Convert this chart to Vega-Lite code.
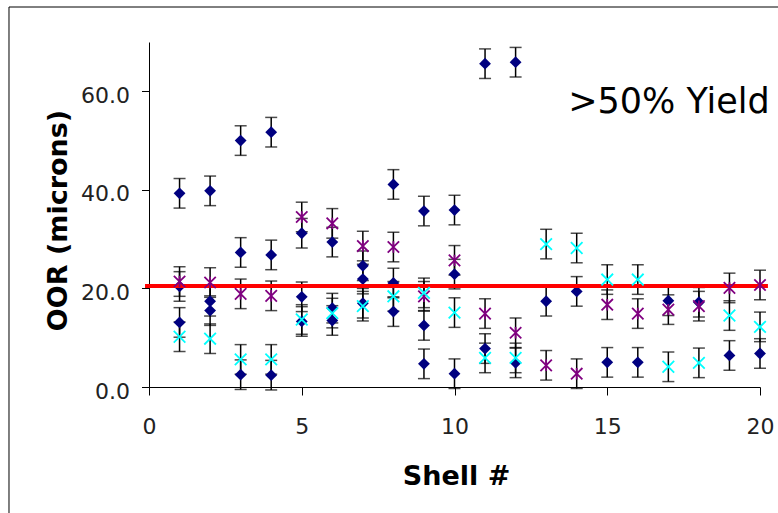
{
  "$schema": "https://vega.github.io/schema/vega-lite/v6.json",
  "width": 611,
  "height": 345,
  "autosize": {"type": "none"},
  "padding": {"left": 149, "top": 42, "right": 18, "bottom": 126},
  "background": "white",
  "config": {"view": {"stroke": null}},
  "datasets": {
    "pts": [
      {"shell": 1, "oor": 39.3, "err": 3, "s": "navy"},
      {"shell": 1, "oor": 20.4, "err": 3, "s": "navy"},
      {"shell": 1, "oor": 13.1, "err": 3, "s": "navy"},
      {"shell": 2, "oor": 39.8, "err": 3, "s": "navy"},
      {"shell": 2, "oor": 17.4, "err": 3, "s": "navy"},
      {"shell": 2, "oor": 15.5, "err": 3, "s": "navy"},
      {"shell": 3, "oor": 50.0, "err": 3, "s": "navy"},
      {"shell": 3, "oor": 27.3, "err": 3, "s": "navy"},
      {"shell": 3, "oor": 2.5, "err": 3, "s": "navy"},
      {"shell": 4, "oor": 51.7, "err": 3, "s": "navy"},
      {"shell": 4, "oor": 26.8, "err": 3, "s": "navy"},
      {"shell": 4, "oor": 2.4, "err": 3, "s": "navy"},
      {"shell": 5, "oor": 31.2, "err": 3, "s": "navy"},
      {"shell": 5, "oor": 18.3, "err": 3, "s": "navy"},
      {"shell": 5, "oor": 13.3, "err": 3, "s": "navy"},
      {"shell": 6, "oor": 29.4, "err": 3, "s": "navy"},
      {"shell": 6, "oor": 16.0, "err": 3, "s": "navy"},
      {"shell": 6, "oor": 13.5, "err": 3, "s": "navy"},
      {"shell": 7, "oor": 24.6, "err": 3, "s": "navy"},
      {"shell": 7, "oor": 21.9, "err": 3, "s": "navy"},
      {"shell": 7, "oor": 17.0, "err": 3, "s": "navy"},
      {"shell": 8, "oor": 41.1, "err": 3, "s": "navy"},
      {"shell": 8, "oor": 21.1, "err": 3, "s": "navy"},
      {"shell": 8, "oor": 15.3, "err": 3, "s": "navy"},
      {"shell": 9, "oor": 35.7, "err": 3, "s": "navy"},
      {"shell": 9, "oor": 12.5, "err": 3, "s": "navy"},
      {"shell": 9, "oor": 4.7, "err": 3, "s": "navy"},
      {"shell": 10, "oor": 35.9, "err": 3, "s": "navy"},
      {"shell": 10, "oor": 22.9, "err": 3, "s": "navy"},
      {"shell": 10, "oor": 2.7, "err": 3, "s": "navy"},
      {"shell": 11, "oor": 65.6, "err": 3, "s": "navy"},
      {"shell": 11, "oor": 7.8, "err": 3, "s": "navy"},
      {"shell": 12, "oor": 65.9, "err": 3, "s": "navy"},
      {"shell": 12, "oor": 4.9, "err": 3, "s": "navy"},
      {"shell": 13, "oor": 17.4, "err": 3, "s": "navy"},
      {"shell": 14, "oor": 19.4, "err": 3, "s": "navy"},
      {"shell": 15, "oor": 5.0, "err": 3, "s": "navy"},
      {"shell": 16, "oor": 5.0, "err": 3, "s": "navy"},
      {"shell": 17, "oor": 17.5, "err": 3, "s": "navy"},
      {"shell": 18, "oor": 17.2, "err": 3, "s": "navy"},
      {"shell": 19, "oor": 6.4, "err": 3, "s": "navy"},
      {"shell": 20, "oor": 6.8, "err": 3, "s": "navy"},
      {"shell": 1, "oor": 21.4, "err": 3, "s": "purple"},
      {"shell": 2, "oor": 21.2, "err": 3, "s": "purple"},
      {"shell": 3, "oor": 18.9, "err": 3, "s": "purple"},
      {"shell": 4, "oor": 18.5, "err": 3, "s": "purple"},
      {"shell": 5, "oor": 34.5, "err": 3, "s": "purple"},
      {"shell": 6, "oor": 33.2, "err": 3, "s": "purple"},
      {"shell": 7, "oor": 28.6, "err": 3, "s": "purple"},
      {"shell": 8, "oor": 28.4, "err": 3, "s": "purple"},
      {"shell": 9, "oor": 18.4, "err": 3, "s": "purple"},
      {"shell": 10, "oor": 25.7, "err": 3, "s": "purple"},
      {"shell": 11, "oor": 14.9, "err": 3, "s": "purple"},
      {"shell": 12, "oor": 11.0, "err": 3, "s": "purple"},
      {"shell": 13, "oor": 4.4, "err": 3, "s": "purple"},
      {"shell": 14, "oor": 2.7, "err": 3, "s": "purple"},
      {"shell": 15, "oor": 16.7, "err": 3, "s": "purple"},
      {"shell": 16, "oor": 14.9, "err": 3, "s": "purple"},
      {"shell": 17, "oor": 15.7, "err": 3, "s": "purple"},
      {"shell": 18, "oor": 16.4, "err": 3, "s": "purple"},
      {"shell": 19, "oor": 20.1, "err": 3, "s": "purple"},
      {"shell": 20, "oor": 20.7, "err": 3, "s": "purple"},
      {"shell": 1, "oor": 10.2, "err": 3, "s": "cyan"},
      {"shell": 2, "oor": 9.8, "err": 3, "s": "cyan"},
      {"shell": 3, "oor": 5.6, "err": 3, "s": "cyan"},
      {"shell": 4, "oor": 5.6, "err": 3, "s": "cyan"},
      {"shell": 5, "oor": 13.7, "err": 3, "s": "cyan"},
      {"shell": 6, "oor": 15.0, "err": 3, "s": "cyan"},
      {"shell": 7, "oor": 16.4, "err": 3, "s": "cyan"},
      {"shell": 8, "oor": 18.4, "err": 3, "s": "cyan"},
      {"shell": 9, "oor": 19.1, "err": 3, "s": "cyan"},
      {"shell": 10, "oor": 15.1, "err": 3, "s": "cyan"},
      {"shell": 11, "oor": 5.9, "err": 3, "s": "cyan"},
      {"shell": 12, "oor": 5.9, "err": 3, "s": "cyan"},
      {"shell": 13, "oor": 29.0, "err": 3, "s": "cyan"},
      {"shell": 14, "oor": 28.2, "err": 3, "s": "cyan"},
      {"shell": 15, "oor": 21.8, "err": 3, "s": "cyan"},
      {"shell": 16, "oor": 21.8, "err": 3, "s": "cyan"},
      {"shell": 17, "oor": 4.1, "err": 3, "s": "cyan"},
      {"shell": 18, "oor": 4.9, "err": 3, "s": "cyan"},
      {"shell": 19, "oor": 14.5, "err": 3, "s": "cyan"},
      {"shell": 20, "oor": 12.2, "err": 3, "s": "cyan"}
    ],
    "refline": [{"x0": -0.13, "x1": 20.26, "level": 20.5}],
    "note": [{"x": 13.72, "y": 55.5, "label": ">50% Yield"}],
    "frame": [{"left": -4.583, "right": 21, "top": 77.1, "bottom": -30}]
  },
  "layer": [
    {
      "data": {"name": "pts"},
      "mark": {"type": "errorbar", "ticks": {"size": 12}, "color": "black", "thickness": 1.5},
      "encoding": {
        "x": {
          "field": "shell", "type": "quantitative",
          "scale": {"domain": [0, 20], "nice": false, "zero": false},
          "axis": {
            "title": "Shell #", "values": [0, 5, 10, 15, 20], "format": "d", "grid": false,
            "domainColor": "black", "domainWidth": 1, "tickColor": "black", "tickWidth": 1, "tickSize": 8,
            "labelFont": "DejaVu Sans", "labelFontSize": 22, "labelColor": "#222", "labelPadding": 21,
            "labelBaseline": "top", "labelFlush": false, "labelOverlap": false,
            "titleFont": "DejaVu Sans", "titleFontSize": 27, "titleFontWeight": "bold", "titleColor": "black",
            "titleX": 307, "titleY": 97, "titleBaseline": "alphabetic", "titleAlign": "center"
          }
        },
        "y": {
          "field": "oor", "type": "quantitative",
          "scale": {"domain": [0, 70], "nice": false},
          "axis": {
            "title": "OOR (microns)", "values": [0, 20, 40, 60], "format": ".1f", "grid": false,
            "domainColor": "black", "domainWidth": 1, "tickColor": "black", "tickWidth": 1, "tickSize": 7.5,
            "labelFont": "DejaVu Sans", "labelFontSize": 22, "labelColor": "#222", "labelPadding": 12,
            "labelOffset": 4, "labelFlush": false, "labelOverlap": false,
            "titleFont": "DejaVu Sans", "titleFontSize": 27, "titleFontWeight": "bold", "titleColor": "black",
            "titleX": -83, "titleY": 178, "titleAngle": -90, "titleBaseline": "alphabetic", "titleAlign": "center"
          }
        },
        "yError": {"field": "err"}
      }
    },
    {
      "data": {"name": "pts"},
      "transform": [{"filter": "datum.s === 'navy'"}],
      "mark": {"type": "point", "shape": "diamond", "filled": true, "color": "#000080", "size": 140, "opacity": 1},
      "encoding": {
        "x": {"field": "shell", "type": "quantitative"},
        "y": {"field": "oor", "type": "quantitative"}
      }
    },
    {
      "data": {"name": "refline"},
      "mark": {"type": "rule", "color": "#FF0000", "strokeWidth": 4},
      "encoding": {
        "x": {"field": "x0", "type": "quantitative"},
        "x2": {"field": "x1"},
        "y": {"field": "level", "type": "quantitative"}
      }
    },
    {
      "data": {"name": "pts"},
      "transform": [{"filter": "datum.s === 'purple'"}],
      "mark": {"type": "point", "shape": "M-1,-1L1,1M-1,1L1,-1M0,-1L0,1", "filled": false, "color": "#800080", "strokeWidth": 1.8, "size": 130, "opacity": 1},
      "encoding": {
        "x": {"field": "shell", "type": "quantitative"},
        "y": {"field": "oor", "type": "quantitative"}
      }
    },
    {
      "data": {"name": "pts"},
      "transform": [{"filter": "datum.s === 'cyan'"}],
      "mark": {"type": "point", "shape": "M-1,-1L1,1M-1,1L1,-1", "filled": false, "color": "#00FFFF", "strokeWidth": 1.8, "size": 135, "opacity": 1},
      "encoding": {
        "x": {"field": "shell", "type": "quantitative"},
        "y": {"field": "oor", "type": "quantitative"}
      }
    },
    {
      "data": {"name": "note"},
      "mark": {"type": "text", "font": "DejaVu Sans", "fontSize": 35, "align": "left", "baseline": "alphabetic", "color": "black"},
      "encoding": {
        "x": {"field": "x", "type": "quantitative"},
        "y": {"field": "y", "type": "quantitative"},
        "text": {"field": "label"}
      }
    },
    {
      "data": {"name": "frame"},
      "mark": {"type": "rule", "color": "black", "strokeWidth": 1},
      "encoding": {
        "x": {"field": "left", "type": "quantitative"},
        "y": {"field": "bottom", "type": "quantitative"},
        "y2": {"field": "top"}
      }
    },
    {
      "data": {"name": "frame"},
      "mark": {"type": "rule", "color": "black", "strokeWidth": 1},
      "encoding": {
        "x": {"field": "left", "type": "quantitative"},
        "x2": {"field": "right"},
        "y": {"field": "top", "type": "quantitative"}
      }
    }
  ]
}
